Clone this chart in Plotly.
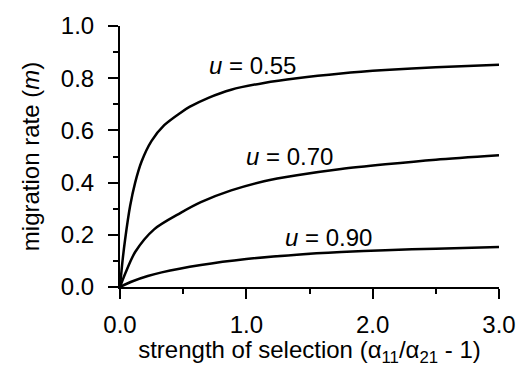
import plotly.graph_objects as go

# Data
x_u055 = [0, 0.02, 0.04, 0.08, 0.12, 0.17, 0.25, 0.35, 0.48, 0.55, 0.70, 0.88, 1.14, 1.40, 1.75, 2.10, 2.50, 3.00]
y_u055 = [0, 0.10, 0.18, 0.31, 0.40, 0.48, 0.56, 0.62, 0.668, 0.69, 0.725, 0.756, 0.782, 0.800, 0.818, 0.831, 0.842, 0.852]

x_u070 = [0, 0.04, 0.12, 0.27, 0.48, 0.64, 0.88, 1.14, 1.40, 1.75, 2.10, 2.50, 3.00]
y_u070 = [0, 0.05, 0.134, 0.221, 0.284, 0.325, 0.370, 0.405, 0.428, 0.452, 0.470, 0.488, 0.505]

x_u090 = [0, 0.10, 0.22, 0.33, 0.64, 1.00, 1.40, 1.75, 2.10, 2.50, 3.00]
y_u090 = [0, 0.022, 0.042, 0.056, 0.084, 0.107, 0.124, 0.134, 0.141, 0.147, 0.153]

labels = ["<i>u</i> = 0.55", "<i>u</i> = 0.70", "<i>u</i> = 0.90"]
label_x = [1.05, 1.345, 1.65]
label_y = [0.849, 0.501, 0.19]

x_ticks = [0, 1, 2, 3]
x_ticktext = ["0.0", "1.0", "2.0", "3.0"]
y_ticks = [0, 0.2, 0.4, 0.6, 0.8, 1.0]
y_ticktext = ["0.0", "0.2", "0.4", "0.6", "0.8", "1.0"]

FONT = "Arial, Liberation Sans, Helvetica, sans-serif"
FS = 24

fig = go.Figure()
for xs, ys in [(x_u055, y_u055), (x_u070, y_u070), (x_u090, y_u090)]:
    fig.add_trace(go.Scatter(x=xs, y=ys, mode="lines",
                             line=dict(color="black", width=2.5, shape="spline", smoothing=0.8),
                             showlegend=False, hoverinfo="skip"))

for t, xx, yy in zip(labels, label_x, label_y):
    fig.add_annotation(x=xx, y=yy, text=t, showarrow=False,
                       font=dict(family=FONT, size=FS, color="black"),
                       xanchor="center", yanchor="middle")

axis_common = dict(showline=True, linecolor="black", linewidth=2,
                   ticks="outside", ticklen=10, tickwidth=2, tickcolor="black",
                   showgrid=False, zeroline=False,
                   tickfont=dict(family=FONT, size=FS, color="black"))

fig.update_layout(
    width=528, height=367,
    margin=dict(l=120, r=23, t=20, b=78),
    plot_bgcolor="white", paper_bgcolor="white",
    font=dict(family=FONT, size=FS, color="black"),
    xaxis=dict(range=[0, 3], tickvals=x_ticks, ticktext=x_ticktext,
               minor=dict(dtick=0.5, ticks="outside", ticklen=5, tickwidth=2, tickcolor="black"),
               title=dict(text="strength of selection (α<sub>11</sub>/α<sub>21</sub> - 1)",
                          font=dict(family=FONT, size=FS, color="black"), standoff=0),
               ticklabelstandoff=5,
               **axis_common),
    yaxis=dict(range=[0, 1], tickvals=y_ticks, ticktext=y_ticktext,
               minor=dict(dtick=0.1, ticks="outside", ticklen=5, tickwidth=2, tickcolor="black"),
               title=dict(text="migration rate (<i>m</i>)",
                          font=dict(family=FONT, size=FS, color="black"), standoff=14),
               ticklabelstandoff=9,
               **axis_common),
)

fig.write_html("out.html")
